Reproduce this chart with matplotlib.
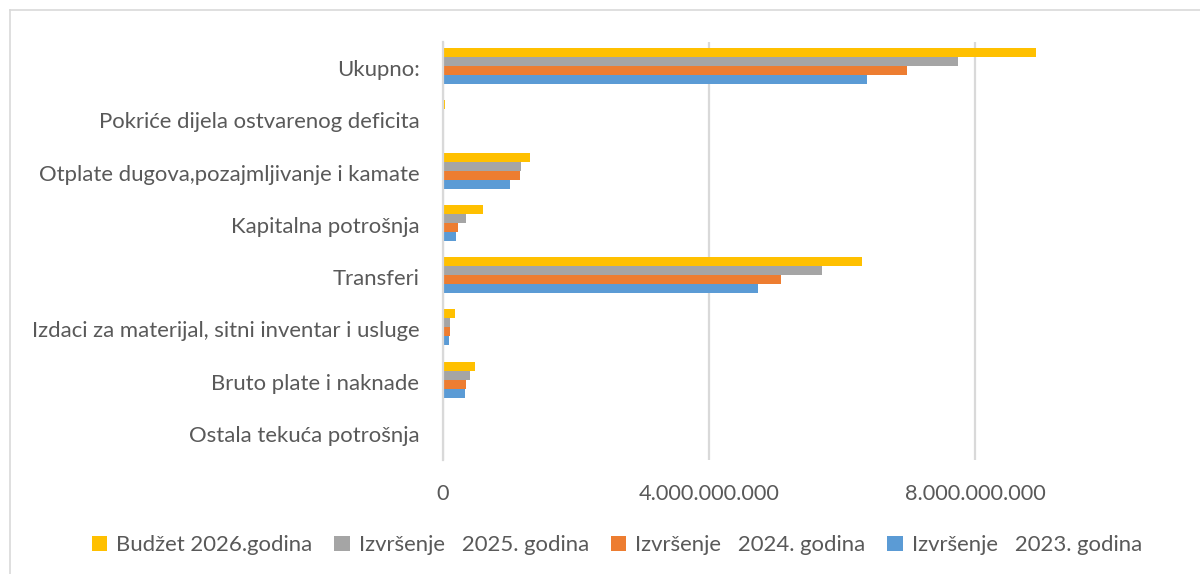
import numpy as np
import matplotlib.pyplot as plt
from matplotlib.lines import Line2D
from matplotlib.patches import Patch

plt.rcParams['font.family'] = ['Lato', 'DejaVu Sans']

categories = ['Ukupno:',
              'Pokriće dijela ostvarenog deficita',
              'Otplate dugova,pozajmljivanje i kamate',
              'Kapitalna potrošnja',
              'Transferi',
              'Izdaci za materijal, sitni inventar i usluge',
              'Bruto plate i naknade',
              'Ostala tekuća potrošnja']

series_names = ['Budžet 2026.godina',
                'Izvršenje   2025. godina',
                'Izvršenje   2024. godina',
                'Izvršenje   2023. godina']

budzet_2026 = [8.91e9, 0.03e9, 1.31e9, 0.60e9, 6.30e9, 0.18e9, 0.48e9, 0]
izv_2025 = [7.75e9, 0, 1.17e9, 0.35e9, 5.70e9, 0.10e9, 0.40e9, 0]
izv_2024 = [6.97e9, 0, 1.16e9, 0.23e9, 5.09e9, 0.11e9, 0.35e9, 0]
izv_2023 = [6.38e9, 0, 1.01e9, 0.19e9, 4.73e9, 0.09e9, 0.33e9, 0]

x_ticks = [0, 4e9, 8e9, 12e9]
x_labels = ['0', '4.000.000.000', '8.000.000.000', '']

colors = ['#FFC000', '#A5A5A5', '#ED7D31', '#5B9BD5']
txt = '#595959'

fig = plt.figure(figsize=(12, 5.74), dpi=100)
ax = fig.add_axes([443/1200, 1-460/574, (1241-443)/1200, 418/574])

y = np.arange(len(categories))
h = 0.172
data = [budzet_2026, izv_2025, izv_2024, izv_2023]
for k, vals in enumerate(data):
    ax.barh(y + (k - 1.5)*h - 0.04, vals, height=h, color=colors[k], zorder=3)

ax.set_ylim(len(categories)-0.5, -0.5)
ax.set_xlim(0, 12e9)
ax.set_yticks(y)
ax.set_yticklabels(categories, fontsize=15.9, color=txt)
ax.set_xticks(x_ticks)
ax.set_xticklabels(x_labels, fontsize=15.7, color=txt)
ax.tick_params(axis='y', length=0, pad=17)
ax.tick_params(axis='x', length=0, pad=17)
ax.xaxis.grid(True, color='#D9D9D9', linewidth=1.6, zorder=0)
for s in ['top', 'right', 'bottom']:
    ax.spines[s].set_visible(False)
ax.spines['left'].set_color('#D9D9D9')
ax.spines['left'].set_linewidth(1.6)
ax.spines['left'].set_zorder(4)

handles = [Patch(facecolor=c, edgecolor='none') for c in colors]
fig.legend(handles, series_names, loc='center', bbox_to_anchor=(0.514, 1-545/574),
           ncol=4, frameon=False, fontsize=15.9, labelcolor=txt,
           handlelength=0.7, handleheight=0.7, handletextpad=0.4,
           columnspacing=1.0)

# chart frame
fig.add_artist(Line2D([10/1200, 1.0], [1-10/574, 1-10/574], color='#D9D9D9', lw=1.2))
fig.add_artist(Line2D([10/1200, 10/1200], [0.0, 1-10/574], color='#D9D9D9', lw=1.2))

fig.savefig('out.png', dpi=100)
